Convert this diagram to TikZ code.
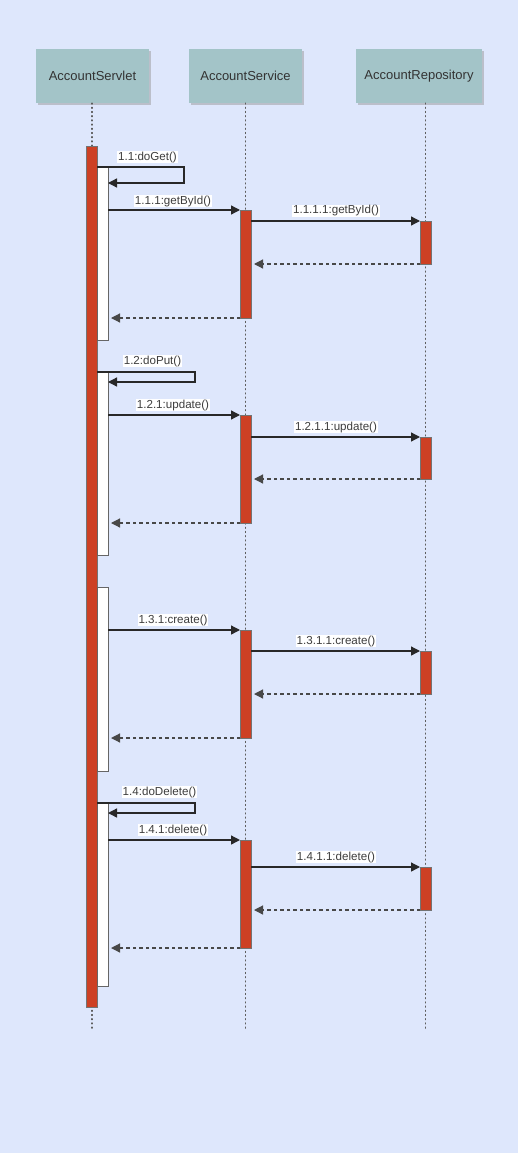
\documentclass[tikz,border=0pt]{standalone}
\usepackage{fontspec}
\setmainfont{Liberation Sans}
\usetikzlibrary{arrows.meta,shadows}
\definecolor{bgblue}{RGB}{222,231,252}
\definecolor{headfill}{RGB}{163,196,200}
\definecolor{barred}{RGB}{205,64,36}
\definecolor{ink}{RGB}{40,40,40}
\begin{document}
\begin{tikzpicture}[x=1pt,y=-1pt,
  head/.style={fill=headfill,draw=none,minimum width=113,minimum height=54,inner sep=0,
    font=\fontsize{13}{15}\selectfont,text=ink!95,
    drop shadow={shadow xshift=2pt,shadow yshift=-2pt,fill=black!40,opacity=0.5}},
  lifeline/.style={draw=ink!75,line width=1.5pt,line cap=round,dash pattern=on 0.8pt off 3.4pt},
  redbar/.style={fill=barred,draw=black!55,line width=0.7pt,minimum width=11,inner sep=0,outer sep=0,anchor=north},
  whitebar/.style={fill=white,draw=black!60,line width=1pt,minimum width=11,inner sep=0,outer sep=0,anchor=north},
  msg/.style={draw=ink,line width=1.3pt,-{Triangle[length=9pt,width=9pt]}},
  ret/.style={draw=ink!85,line width=1.2pt,dash pattern=on 3.5pt off 3pt,-{Triangle[length=9pt,width=9pt]},shorten >=3pt},
  lbl/.style={fill=white,inner sep=0.8pt,font=\fontsize{11.6}{13}\selectfont,text=ink!90}]
% canvas
\fill[bgblue] (0,0) rectangle (518,1153);
\useasboundingbox (0,0) rectangle (518,1153);

% participants
\node[head] (hA) at (92.5,76) {AccountServlet};
\node[head] (hB) at (245.5,76) {AccountService};
\node[head,minimum width=126] (hC) at (419,76) {AccountRepository};

% lifeline ends
\coordinate (eA) at (92,1030);
\coordinate (eB) at (245.5,1030);
\coordinate (eC) at (425.5,1030);
\draw[lifeline] (hA.south -| eA) -- (eA);
\draw[lifeline] (hB.south) -- (eB);
\draw[lifeline] (hC.south -| eC) -- (eC);

% activation bars
\node[redbar,minimum height=861] (a0) at (91.5,146) {};
\node[whitebar,minimum height=173] (w1) at (102.5,167) {};
\node[whitebar,minimum height=183] (w2) at (102.5,372) {};
\node[whitebar,minimum height=184] (w3) at (102.5,587) {};
\node[whitebar,minimum height=183] (w4) at (102.5,803) {};

\node[redbar,minimum height=108] (s1) at (245.5,210) {};
\node[redbar,minimum height=108] (s2) at (245.5,415) {};
\node[redbar,minimum height=108] (s3) at (245.5,630) {};
\node[redbar,minimum height=108] (s4) at (245.5,840) {};

\node[redbar,minimum height=43] (r1) at (425.5,221) {};
\node[redbar,minimum height=42] (r2) at (425.5,437) {};
\node[redbar,minimum height=43] (r3) at (425.5,651) {};
\node[redbar,minimum height=43] (r4) at (425.5,867) {};

% 1.1 doGet
\draw[msg] (w1.north west) -- ++(87,0) |- (w1.east |- 0,183);
\node[lbl] (l11) at (147.5,157) {1.1:doGet()};
\draw[msg] (w1.east |- s1.north) -- (s1.north west);
\node[lbl] (l111) at (173,201) {1.1.1:getById()};
\draw[msg] (s1.east |- r1.north) -- (r1.north west);
\node[lbl] (l1111) at (336,211) {1.1.1.1:getById()};
\draw[ret] (r1.south west) -- (s1.east |- r1.south);
\draw[ret] (s1.south west) -- (w1.east |- s1.south);

% 1.2 doPut
\draw[msg] (w2.north west) -- ++(98,0) |- (w2.east |- 0,382);
\node[lbl] (l12) at (152.5,361) {1.2:doPut()};
\draw[msg] (w2.east |- s2.north) -- (s2.north west);
\node[lbl] (l121) at (173,405) {1.2.1:update()};
\draw[msg] (s2.east |- r2.north) -- (r2.north west);
\node[lbl] (l1211) at (336,427) {1.2.1.1:update()};
\draw[ret] (r2.south west) -- (s2.east |- r2.south);
\draw[ret] (s2.south west) -- (w2.east |- s2.south);

% 1.3 create
\draw[msg] (w3.east |- s3.north) -- (s3.north west);
\node[lbl] (l131) at (173,620) {1.3.1:create()};
\draw[msg] (s3.east |- r3.north) -- (r3.north west);
\node[lbl] (l1311) at (336,641) {1.3.1.1:create()};
\draw[ret] (r3.south west) -- (s3.east |- r3.south);
\draw[ret] (s3.south west) -- (w3.east |- s3.south);

% 1.4 doDelete
\draw[msg] (w4.north west) -- ++(98,0) |- (w4.east |- 0,813);
\node[lbl] (l14) at (159.5,792) {1.4:doDelete()};
\draw[msg] (w4.east |- s4.north) -- (s4.north west);
\node[lbl] (l141) at (173,830) {1.4.1:delete()};
\draw[msg] (s4.east |- r4.north) -- (r4.north west);
\node[lbl] (l1411) at (336,857) {1.4.1.1:delete()};
\draw[ret] (r4.south west) -- (s4.east |- r4.south);
\draw[ret] (s4.south west) -- (w4.east |- s4.south);
\end{tikzpicture}
\end{document}
